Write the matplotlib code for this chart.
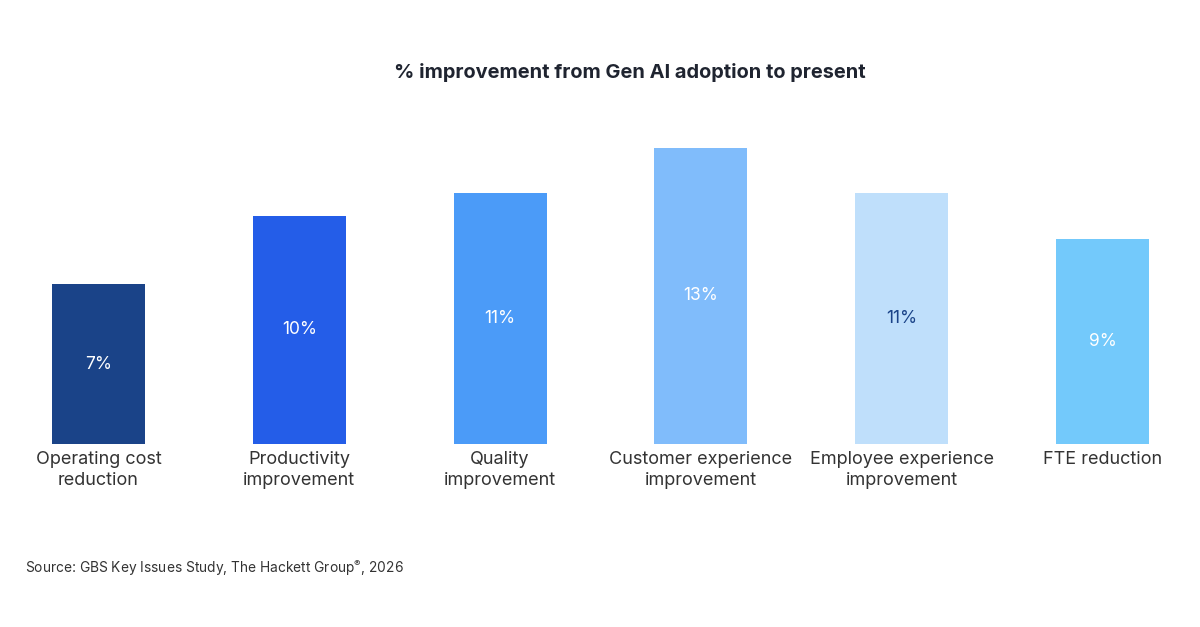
import matplotlib
matplotlib.use("Agg")
import matplotlib.pyplot as plt

plt.rcParams['font.family'] = ['Inter', 'DejaVu Sans']
plt.rcParams['mathtext.fontset'] = 'custom'
plt.rcParams['mathtext.rm'] = 'Inter'

categories = ["Operating cost\nreduction", "Productivity\nimprovement", "Quality\nimprovement",
              "Customer experience\nimprovement", "Employee experience\nimprovement", "FTE reduction"]
values = [7, 10, 11, 13, 11, 9]
colors = ["#1a4388", "#245de8", "#4b9bf8", "#80bcfb", "#bfdffb", "#73c9fb"]
label_colors = ["white", "white", "white", "white", "#1a4388", "white"]

fig = plt.figure(figsize=(12, 6.27), dpi=100)
ax = fig.add_axes([0.01517, 0.2919, 0.9705, 0.5091])
x = list(range(len(values)))
ax.bar(x, values, width=0.463, color=colors)
ax.set_xlim(-0.4, 5.4)
ax.set_ylim(0, 14)
for xi, v, c in zip(x, values, label_colors):
    ax.text(xi, v / 2, f"{v}%", ha="center", va="center", fontsize=12.5, color=c)
ax.set_xticks(x)
ax.set_xticklabels(categories, fontsize=13, color="#333333", linespacing=1.35)
ax.tick_params(axis="x", length=0, pad=5)
ax.set_yticks([])
for s in ax.spines.values():
    s.set_visible(False)

fig.text(630 / 1200, 1 - 72 / 627, "% improvement from Gen AI adoption to present",
         ha="center", va="center", fontsize=14.4, fontweight="bold", color="#1f2430")
fig.text(25 / 1200, 1 - 568 / 627, r"Source: GBS Key Issues Study, The Hackett Group$^{\mathrm{®}}$, 2026",
         ha="left", va="center", fontsize=9.9, color="#333333")
fig.savefig("out.png", dpi=100, facecolor="white")
